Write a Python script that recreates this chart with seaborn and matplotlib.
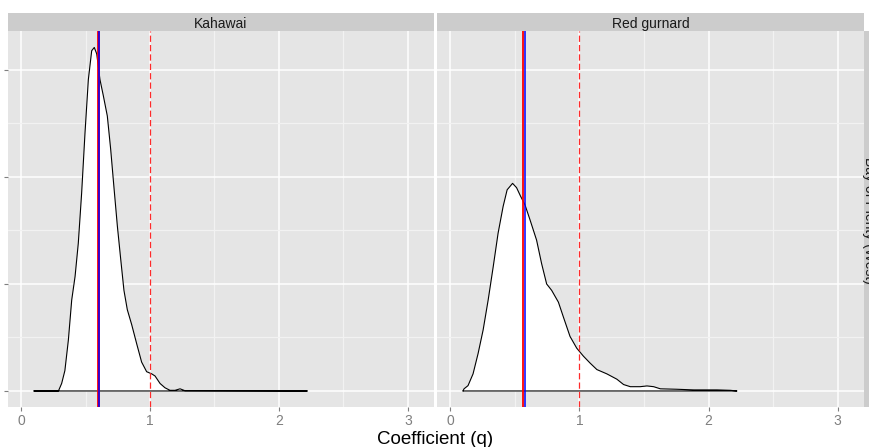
import matplotlib
matplotlib.use("Agg")
import matplotlib.pyplot as plt
import seaborn as sns
import pandas as pd

# ---------------- data ----------------
species = ["Kahawai", "Red gurnard"]
region = "Bay of Plenty (West)"
x_label = "Coefficient (q)"
x_ticks = [0, 1, 2, 3]
y_ticks = [0, 1, 2, 3]
minor_ticks = [0.5, 1.5, 2.5]

kahawai_q = [0.10, 0.29, 0.315, 0.34, 0.367, 0.393, 0.419, 0.444, 0.47, 0.496,
             0.522, 0.548, 0.568, 0.587, 0.612, 0.638, 0.669, 0.695, 0.72, 0.747,
             0.773, 0.798, 0.824, 0.858, 0.897, 0.935, 0.974, 1.013, 1.039, 1.078,
             1.116, 1.155, 1.194, 1.233, 1.27, 2.22]
kahawai_density = [0, 0, 0.07, 0.19, 0.475, 0.85, 1.07, 1.38, 1.85, 2.41,
                   2.91, 3.18, 3.21, 3.15, 2.91, 2.76, 2.57, 2.26, 1.91, 1.54,
                   1.23, 0.94, 0.76, 0.62, 0.44, 0.27, 0.18, 0.16, 0.14, 0.07,
                   0.03, 0.006, 0.006, 0.02, 0.003, 0]

gurnard_q = [0.098, 0.106, 0.137, 0.176, 0.215, 0.254, 0.293, 0.332, 0.37, 0.409,
             0.44, 0.482, 0.513, 0.544, 0.578, 0.617, 0.668, 0.707, 0.746, 0.785,
             0.837, 0.876, 0.927, 0.979, 1.031, 1.083, 1.135, 1.212, 1.29, 1.342,
             1.394, 1.47, 1.523, 1.575, 1.627, 1.754, 1.886, 2.065, 2.17, 2.22]
gurnard_density = [0, 0.02, 0.05, 0.16, 0.35, 0.57, 0.85, 1.16, 1.475, 1.725,
                   1.88, 1.94, 1.90, 1.82, 1.74, 1.6, 1.41, 1.19, 1.0, 0.94,
                   0.83, 0.69, 0.51, 0.40, 0.325, 0.26, 0.20, 0.16, 0.11, 0.06,
                   0.04, 0.04, 0.047, 0.04, 0.02, 0.016, 0.01, 0.01, 0.006, 0]

red_line_q = [0.594, 0.564]
blue_line_q = [0.608, 0.576]
reference_q = 1.0

series_q = [kahawai_q, gurnard_q]
series_d = [kahawai_density, gurnard_density]
red_widths = [2.0, 1.3]

# ---------------- style ----------------
sns.set_style("darkgrid")
plt.rcParams["font.family"] = ["Liberation Sans", "DejaVu Sans"]

W, H = 870, 447
fig = plt.figure(figsize=(W / 100, H / 100), dpi=100)
fig.patch.set_facecolor("white")

panels = [(8.0, 434.0), (437.3, 863.7)]
top, bottom = 31.0, 406.7
strip_h = 18.0

for i, (l, r) in enumerate(panels):
    ax = fig.add_axes([l / W, 1 - bottom / H, (r - l) / W, (bottom - top) / H])
    ax.set_facecolor("#E5E5E5")
    ax.set_axisbelow(True)

    q = series_q[i] + [series_q[i][0]]
    d = series_d[i] + [0]
    df = pd.DataFrame({"q": q, "density": d})
    ax.fill(df["q"], df["density"], facecolor="white", edgecolor="none", zorder=2)
    sns.lineplot(data=df, x="q", y="density", sort=False, estimator=None,
                 color="black", lw=0.8, ax=ax, zorder=3)

    ax.axvline(red_line_q[i], color="#FF0000", lw=red_widths[i], zorder=4)
    ax.axvline(blue_line_q[i], color="#0000FF", lw=1.1, zorder=5)
    ax.axvline(reference_q, color="#FF2A2A", lw=0.9, ls=(0, (5, 2.5)), zorder=4)

    ax.set_xlim(-0.101, 3.202)
    ax.set_ylim(-0.147, 3.364)
    ax.set_xticks(x_ticks)
    ax.set_xticks(minor_ticks, minor=True)
    ax.set_yticks(y_ticks)
    ax.set_yticks(minor_ticks, minor=True)
    ax.grid(which="major", color="white", lw=1.1)
    ax.grid(which="minor", color="#F2F2F2", lw=0.9)
    for s in ax.spines.values():
        s.set_visible(False)

    ax.set_xticklabels([str(t) for t in x_ticks])
    ax.tick_params(axis="x", which="major", length=2.8, width=0.8, color="#7F7F7F",
                   labelcolor="#7F7F7F", labelsize=10, pad=2.5, bottom=True)
    ax.tick_params(axis="both", which="minor", length=0)
    if i == 0:
        ax.set_yticklabels([])
        ax.tick_params(axis="y", which="major", length=3.2, width=0.8,
                       color="#7F7F7F", left=True)
    else:
        ax.set_yticklabels([])
        ax.tick_params(axis="y", which="major", length=0)
    ax.set_xlabel("")
    ax.set_ylabel("")

    # top strip
    sax = fig.add_axes([l / W, 1 - top / H, (r - l) / W, strip_h / H])
    sax.set_facecolor("#CCCCCC")
    sax.set_xticks([]); sax.set_yticks([])
    for s in sax.spines.values():
        s.set_visible(False)
    sax.text(0.5, (top - 28.3) / strip_h, species[i], ha="center", va="baseline",
             fontsize=10, color="#1A1A1A", transform=sax.transAxes)

# right strip (partially outside the canvas, as in the reference)
rax = fig.add_axes([864 / W, 1 - bottom / H, strip_h / W, (bottom - top) / H])
rax.set_facecolor("#CCCCCC")
rax.set_xticks([]); rax.set_yticks([])
for s in rax.spines.values():
    s.set_visible(False)
rax.text((865.5 - 864) / strip_h, 0.497, region, rotation=270, rotation_mode="anchor",
         ha="center", va="baseline", fontsize=10, color="#1A1A1A",
         transform=rax.transAxes)

fig.text(435 / W, 3.5 / H, x_label, ha="center", va="baseline", fontsize=13.5,
         color="black")

fig.savefig("out.png", dpi=100)
